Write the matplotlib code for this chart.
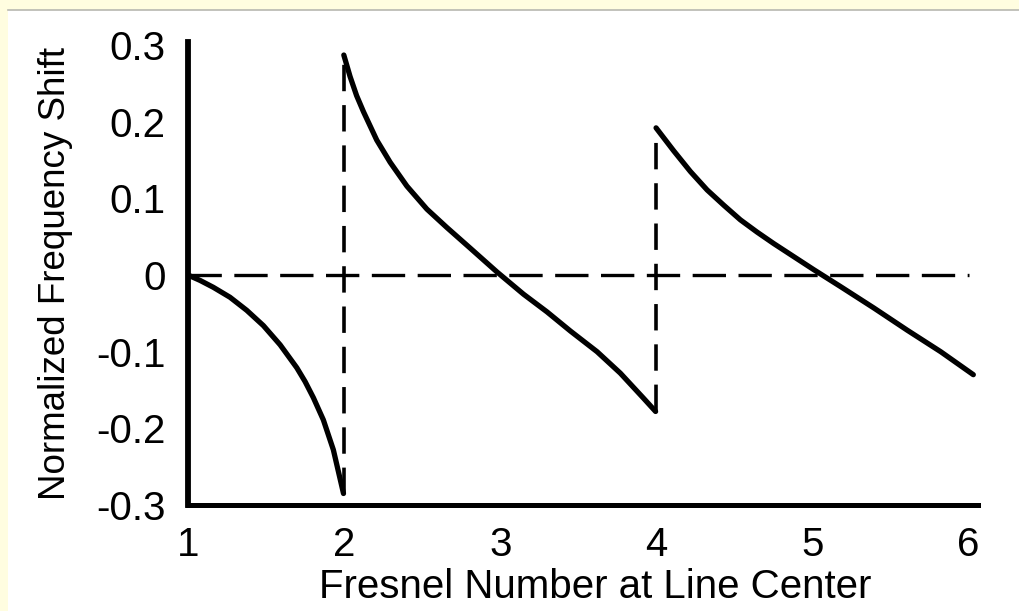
import matplotlib
matplotlib.use("Agg")
import matplotlib.pyplot as plt
from matplotlib.patches import Rectangle
from matplotlib.lines import Line2D

# ---- data ----
seg1_x = [1.000, 1.077, 1.162, 1.269, 1.376, 1.483, 1.590, 1.697, 1.750, 1.803, 1.867, 1.931, 1.996]
seg1_y = [0.000, -0.007, -0.016, -0.029, -0.046, -0.066, -0.091, -0.121, -0.139, -0.160, -0.189, -0.228, -0.285]

seg2_x = [1.998, 2.038, 2.080, 2.124, 2.209, 2.295, 2.402, 2.530, 2.658, 2.808, 2.979, 3.149, 3.299, 3.449, 3.620, 3.769, 3.919, 3.995]
seg2_y = [0.287, 0.259, 0.234, 0.213, 0.176, 0.147, 0.116, 0.086, 0.062, 0.035, 0.004, -0.025, -0.048, -0.073, -0.100, -0.128, -0.161, -0.178]

seg3_x = [3.998, 4.111, 4.218, 4.325, 4.432, 4.538, 4.645, 4.752, 4.880, 5.008, 5.179, 5.393, 5.607, 5.821, 6.030]
seg3_y = [0.192, 0.162, 0.135, 0.111, 0.091, 0.072, 0.056, 0.041, 0.024, 0.007, -0.015, -0.043, -0.072, -0.100, -0.130]

zero_x = [1.0, 6.0]
zero_y = [0.0, 0.0]
jump_x = [2.0, 4.0]
jump_lo = [-0.285, -0.178]
jump_hi = [0.287, 0.192]

xticks = [1, 2, 3, 4, 5, 6]
xticklabels = ["1", "2", "3", "4", "5", "6"]
yticks = [-0.3, -0.2, -0.1, 0.0, 0.1, 0.2, 0.3]
yticklabels = ["-0.3", "-0.2", "-0.1", "0", "0.1", "0.2", "0.3"]

plt.rcParams['font.family'] = ['Liberation Sans', 'DejaVu Sans']
plt.rcParams['lines.scale_dashes'] = False

W, H = 1020, 611
fig = plt.figure(figsize=(W / 100, H / 100), dpi=100, facecolor='#fffde0')
# white page region
fig.patches.append(Rectangle((8 / W, 0), 1 - 8 / W, (H - 10) / H, transform=fig.transFigure,
                             facecolor='white', edgecolor='none', zorder=-10))
fig.add_artist(Line2D([8 / W, 1], [(H - 10) / H, (H - 10) / H], transform=fig.transFigure,
                      color='#b8b8b0', lw=1.2, zorder=-5))

ax = fig.add_axes([188 / W, (H - 505) / H, (978 - 188) / W, (505 - 42) / H])
ax.set_facecolor('none')
ax.set_zorder(5)

for sx, sy in [(seg1_x, seg1_y), (seg2_x, seg2_y), (seg3_x, seg3_y)]:
    ax.plot(sx, sy, color='black', lw=3.8, solid_capstyle='round', solid_joinstyle='round', zorder=3)

ax.plot(zero_x, zero_y, color='black', lw=2.4, dashes=(24, 9), zorder=2)
for jx, lo, hi in zip(jump_x, jump_lo, jump_hi):
    ax.plot([jx, jx], [lo, hi], color='black', lw=2.6, dashes=(19, 10), zorder=2)

ax.set_xlim(1, 6.06)
ax.set_ylim(-0.3, 0.304)
ax.set_xticks(xticks)
ax.set_xticklabels(xticklabels)
ax.set_yticks(yticks)
ax.set_yticklabels(yticklabels)
ax.tick_params(axis='both', length=0, labelsize=29)
ax.tick_params(axis='x', pad=15)
ax.tick_params(axis='y', pad=16)

for s in ['top', 'right']:
    ax.spines[s].set_visible(False)
ax.spines['left'].set_linewidth(4.2)
ax.spines['bottom'].set_linewidth(3.6)

ax.set_xlabel('Fresnel Number at Line Center', fontsize=29)
ax.xaxis.set_label_coords((595 - 188) / 790, -0.137)
ax.set_ylabel('Normalized Frequency Shift', fontsize=26.5, labelpad=17)

fig.savefig('out.png', dpi=100, facecolor=fig.get_facecolor())
